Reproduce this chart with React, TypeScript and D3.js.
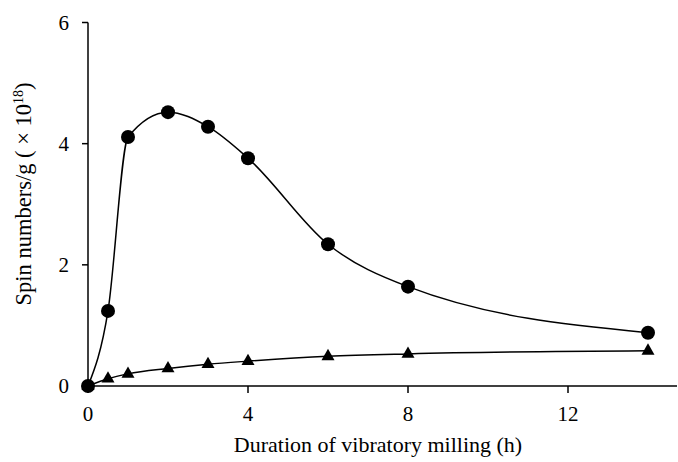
import React from "react";
import * as d3 from "d3";

const hours = [0, 0.5, 1, 2, 3, 4, 6, 8, 14];
const circleSeries = [0, 1.24, 4.11, 4.52, 4.28, 3.76, 2.34, 1.64, 0.88];
const triangleSeries = [0, 0.12, 0.2, 0.29, 0.36, 0.41, 0.49, 0.53, 0.58];
const xTicks = [0, 4, 8, 12];
const yTicks = [0, 2, 4, 6];

export default function App() {
  const W = 678, H = 462;
  const x = d3.scaleLinear().domain([0, 14.75]).range([88, 678]);
  const y = d3.scaleLinear().domain([0, 6]).range([386, 22.5]);
  const font = "'Liberation Serif', 'Times New Roman', serif";
  const line = d3.line<number>()
    .x((_, i) => x(hours[i]))
    .y((d) => y(d))
    .curve(d3.curveMonotoneX);
  const triPath = (cx: number, cy: number) => {
    const s = 6.5;
    return `M${cx},${cy - s} L${cx + s * 1.0},${cy + s * 0.75} L${cx - s * 1.0},${cy + s * 0.75} Z`;
  };
  return (
    <svg width={W} height={H} style={{ position: "absolute", left: 0, top: 0 }}>
      <rect width={W} height={H} fill="#fff" />
      <line x1={x(0)} x2={677} y1={y(0)} y2={y(0)} stroke="#000" strokeWidth={1.5} />
      <line x1={x(0)} x2={x(0)} y1={y(0)} y2={y(6)} stroke="#000" strokeWidth={1.5} />
      {yTicks.map((t) => (
        <g key={"y" + t}>
          <line x1={x(0) - 6} x2={x(0)} y1={y(t)} y2={y(t)} stroke="#000" strokeWidth={1.5} />
          <text x={x(0) - 19} y={y(t) + 7} textAnchor="end" fontFamily={font} fontSize={21}>{t}</text>
        </g>
      ))}
      {xTicks.map((t) => (
        <g key={"x" + t}>
          <line x1={x(t)} x2={x(t)} y1={y(0)} y2={y(0) + 7} stroke="#000" strokeWidth={1.5} />
          <text x={x(t)} y={421} textAnchor="middle" fontFamily={font} fontSize={21}>{t}</text>
        </g>
      ))}
      <text x={378} y={452} textAnchor="middle" fontFamily={font} fontSize={22}>Duration of vibratory milling (h)</text>
      <text transform={`translate(31,194) rotate(-90)`} textAnchor="middle" fontFamily={font} fontSize={22.5}>
        Spin numbers/g ( × 10<tspan dy={-8} fontSize={14}>18</tspan><tspan dy={8}>)</tspan>
      </text>
      <path d={line(circleSeries) || ""} fill="none" stroke="#000" strokeWidth={1.5} />
      <path d={line(triangleSeries) || ""} fill="none" stroke="#000" strokeWidth={1.5} />
      {triangleSeries.map((v, i) => (
        <path key={"t" + i} d={triPath(x(hours[i]), y(v) - 1)} fill="#000" />
      ))}
      {circleSeries.map((v, i) => (
        <circle key={"c" + i} cx={x(hours[i])} cy={y(v)} r={7} fill="#000" />
      ))}
    </svg>
  );
}
